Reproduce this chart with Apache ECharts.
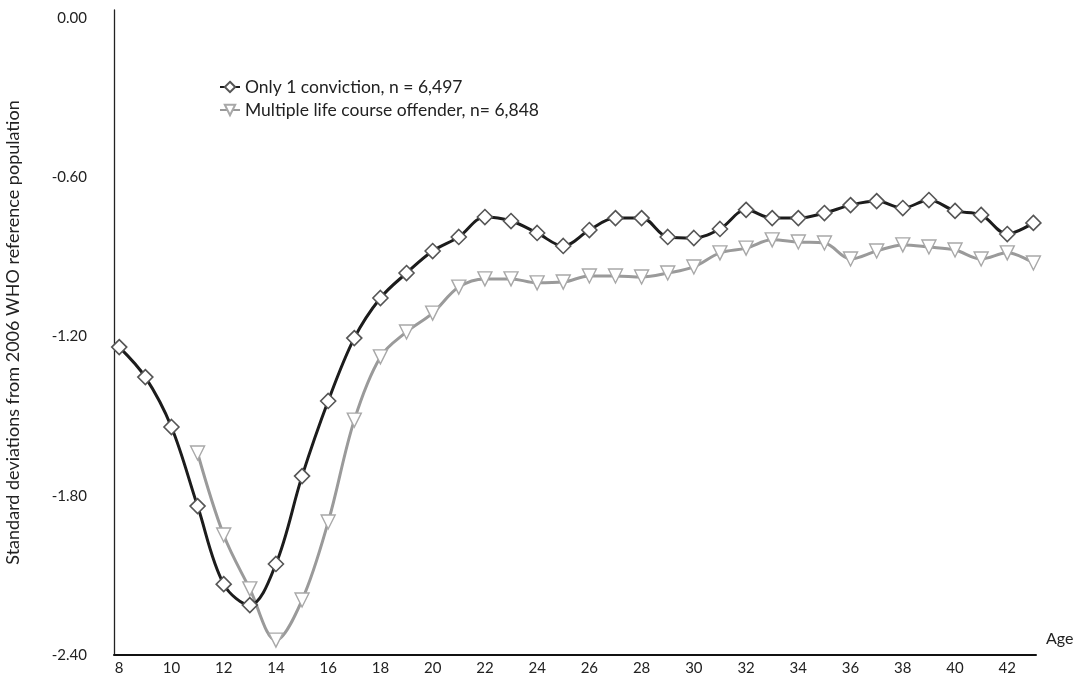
<!DOCTYPE html>
<html>
<head>
<meta charset="utf-8">
<script src="https://cdn.jsdelivr.net/npm/echarts@6/dist/echarts.min.js"></script>
<style>
  html, body { margin: 0; padding: 0; background: #fff; }
  #chart { width: 1077px; height: 684px; }
</style>
</head>
<body>
<div id="chart"></div>
<script>
// ages (one point per year)
var ages = [];
for (var a = 8; a <= 43; a++) ages.push(a);

// Only 1 conviction (ages 8..43)
var oneConviction = [-1.240, -1.353, -1.541, -1.839, -2.133, -2.212, -2.057, -1.726, -1.443, -1.206,
  -1.055, -0.961, -0.878, -0.825, -0.750, -0.765, -0.810, -0.859, -0.799, -0.754,
  -0.754, -0.825, -0.829, -0.795, -0.723, -0.754, -0.754, -0.735, -0.705, -0.690,
  -0.716, -0.686, -0.727, -0.742, -0.814, -0.772];

// Multiple life course offender (ages 11..43)
var multipleAges = [];
for (var b = 11; b <= 43; b++) multipleAges.push(b);
var multipleOffender = [-1.639, -1.948, -2.151, -2.344, -2.193, -1.899, -1.515, -1.277, -1.183,
  -1.112, -1.014, -0.983, -0.983, -0.998, -0.995, -0.972, -0.972, -0.976, -0.961,
  -0.938, -0.885, -0.867, -0.836, -0.844, -0.848, -0.908, -0.878, -0.855, -0.863,
  -0.874, -0.908, -0.885, -0.923];

var xTicks = [8, 10, 12, 14, 16, 18, 20, 22, 24, 26, 28, 30, 32, 34, 36, 38, 40, 42];
var yTicks = [-2.4, -1.8, -1.2, -0.6, 0];

var legendNames = ['Only 1 conviction, n = 6,497', 'Multiple life course offender, n= 6,848'];

function pairs(xs, ys) {
  return xs.map(function (x, i) { return [x, ys[i]]; });
}

var font = 'Lato, "Open Sans", sans-serif';

var chart = echarts.init(document.getElementById('chart'));
chart.setOption({
  backgroundColor: '#ffffff',
  animation: false,
  grid: { left: 114, right: 41, top: 10, bottom: 29, outerBoundsMode: 'none' },
  legend: {
    left: 214,
    top: 73,
    orient: 'vertical',
    itemGap: 5,
    itemWidth: 20,
    itemHeight: 13,
    textStyle: { fontFamily: font, fontSize: 17.5, color: '#222' },
    data: legendNames
  },
  xAxis: {
    type: 'value',
    position: 'bottom',
    min: 7.8,
    max: 43.1,
    name: 'Age',
    nameLocation: 'end',
    nameGap: 10,
    nameTextStyle: { fontFamily: font, fontSize: 16, color: '#222', verticalAlign: 'bottom', padding: [0, 0, 8, 0] },
    axisLine: { show: true, onZero: false, lineStyle: { color: '#111', width: 2 } },
    axisTick: { show: false },
    splitLine: { show: false },
    axisLabel: {
      customValues: xTicks,
      fontFamily: font, fontSize: 15, color: '#222', margin: 6
    }
  },
  yAxis: {
    type: 'value',
    position: 'left',
    min: -2.4,
    max: 0.03,
    name: 'Standard deviations from 2006 WHO reference population',
    nameLocation: 'middle',
    nameGap: 92,
    nameTextStyle: { fontFamily: font, fontSize: 18, color: '#222' },
    axisLine: { show: true, onZero: false, lineStyle: { color: '#222', width: 1.3 } },
    axisTick: { show: false },
    splitLine: { show: false },
    axisLabel: {
      customValues: yTicks,
      fontFamily: font, fontSize: 15, color: '#222', margin: 27,
      formatter: function (v) { return v.toFixed(2); }
    }
  },
  series: [
    {
      name: legendNames[0],
      type: 'line',
      smooth: 0.35,
      data: pairs(ages, oneConviction),
      symbol: 'diamond',
      symbolSize: 15,
      lineStyle: { color: '#1c1c1c', width: 3 },
      itemStyle: { color: '#ffffff', borderColor: '#555', borderWidth: 1.6 },
      z: 3
    },
    {
      name: legendNames[1],
      type: 'line',
      smooth: 0.35,
      data: pairs(multipleAges, multipleOffender),
      symbol: 'triangle',
      symbolRotate: 180,
      symbolSize: 14,
      lineStyle: { color: '#9a9a9a', width: 3 },
      itemStyle: { color: '#ffffff', borderColor: '#a8a8a8', borderWidth: 1.4 },
      z: 2
    }
  ]
});
</script>
</body>
</html>
